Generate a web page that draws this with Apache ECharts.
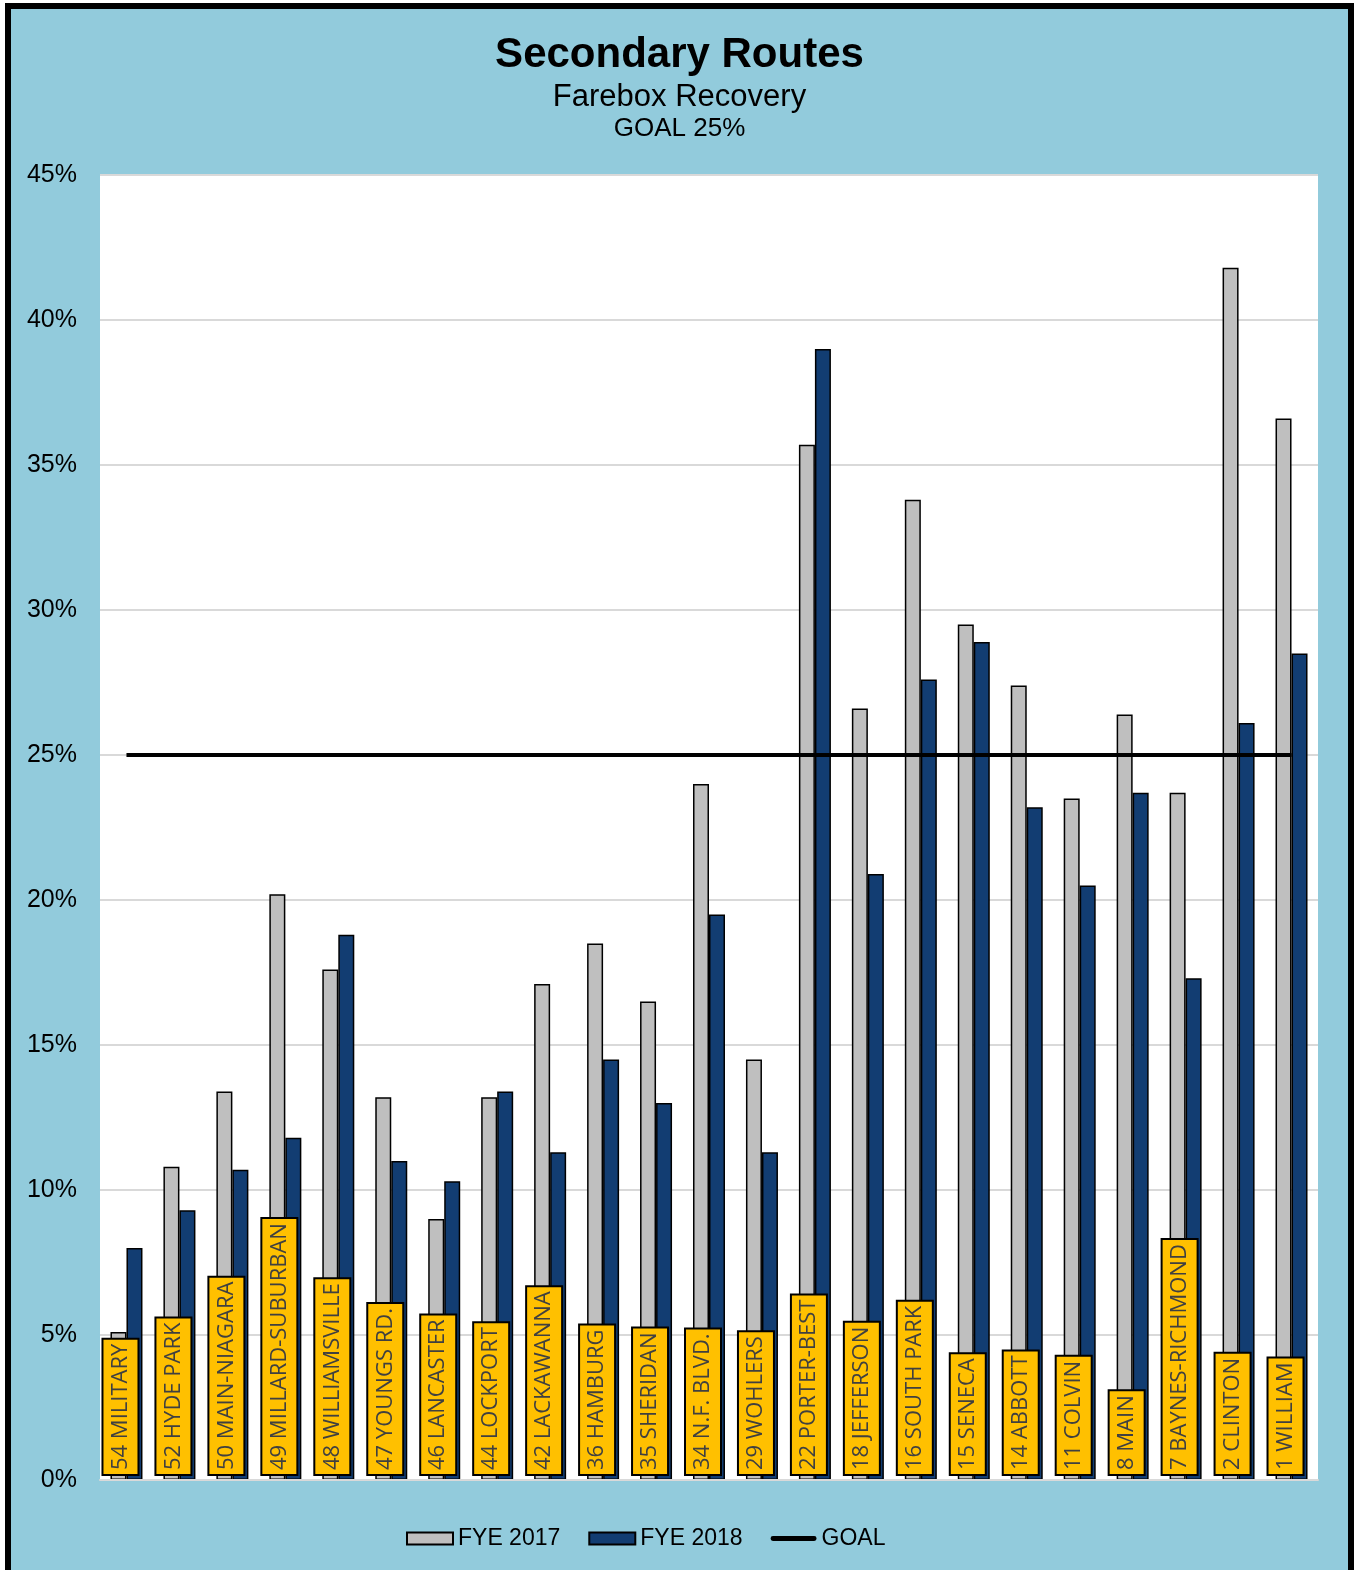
<!DOCTYPE html>
<html>
<head>
<meta charset="utf-8">
<script src="https://cdn.jsdelivr.net/npm/echarts@6/dist/echarts.min.js"></script>
<style>
  html, body { margin: 0; padding: 0; background: #fff; }
  #frame {
    position: absolute; left: 5px; top: 3px;
    width: 1337px; height: 1561px;
    border: 6px solid #000; border-bottom: none;
    background: #92cbdc;
  }
  #chart-container { width: 1337px; height: 1561px; }
</style>
</head>
<body>
<div id="frame"><div id="chart-container"></div></div>
<script>
const routes = [
  "54 MILITARY", "52 HYDE PARK", "50 MAIN-NIAGARA", "49 MILLARD-SUBURBAN",
  "48 WILLIAMSVILLE", "47 YOUNGS RD.", "46 LANCASTER", "44 LOCKPORT",
  "42 LACKAWANNA", "36 HAMBURG", "35 SHERIDAN", "34 N.F. BLVD.",
  "29 WOHLERS", "22 PORTER-BEST", "18 JEFFERSON", "16 SOUTH PARK",
  "15 SENECA", "14 ABBOTT", "11 COLVIN", "8 MAIN",
  "7 BAYNES-RICHMOND", "2 CLINTON", "1 WILLIAM"
];
const fye2017 = [
  5.1, 10.8, 13.4, 20.2, 17.6, 13.2, 9.0, 13.2, 17.1, 18.5, 16.5, 24.0,
  14.5, 35.7, 26.6, 33.8, 29.5, 27.4, 23.5, 26.4, 23.7, 41.8, 36.6
];
const fye2018 = [
  8.0, 9.3, 10.7, 11.8, 18.8, 11.0, 10.3, 13.4, 11.3, 14.5, 13.0, 19.5,
  11.3, 39.0, 20.9, 27.6, 28.9, 23.2, 20.5, 23.7, 17.3, 26.1, 28.5
];
const goal = [
  25, 25, 25, 25, 25, 25, 25, 25, 25, 25, 25, 25,
  25, 25, 25, 25, 25, 25, 25, 25, 25, 25, 25
];
const yTicks = [0, 5, 10, 15, 20, 25, 30, 35, 40, 45];

(() => {
  var dom = document.getElementById("chart-container");
  var chart = echarts.init(dom, null, { renderer: "canvas" });
  const arial = "'Liberation Sans', Arial, sans-serif";
  const option = {
    animation: false,
    backgroundColor: "#92cbdc",
    title: [
      {
        text: "Secondary Routes",
        left: "center",
        top: 20,
        textStyle: { fontFamily: arial, fontSize: 42, fontWeight: "bold", color: "#000", lineHeight: 42 },
      },
      {
        text: "Farebox Recovery",
        left: "center",
        top: 68,
        textStyle: { fontFamily: arial, fontSize: 31, fontWeight: "normal", color: "#000", lineHeight: 31 },
      },
      {
        text: "GOAL 25%",
        left: "center",
        top: 102,
        textStyle: { fontFamily: arial, fontSize: 26, fontWeight: "normal", color: "#000", lineHeight: 26 },
      },
    ],
    legend: {
      bottom: 15,
      left: 390,
      itemWidth: 46,
      itemHeight: 12,
      itemGap: 28,
      textStyle: { fontFamily: arial, fontSize: 23, color: "#000" },
      data: [
        { name: "FYE 2017", icon: "rect" },
        { name: "FYE 2018", icon: "rect" },
        {
          name: "GOAL",
          icon: "path://M2.5,0 L45.5,0 A2.5,2.5 0 0 1 45.5,5 L2.5,5 A2.5,2.5 0 0 1 2.5,0 Z",
          itemStyle: { color: "#000", borderWidth: 0 },
        },
      ],
    },
    grid: { left: 89, top: 166, width: 1218, height: 1305, backgroundColor: "#fff", show: true, borderWidth: 0 },
    xAxis: {
      type: "category",
      data: routes,
      z: 10,
      axisLine: { lineStyle: { color: "#d9d9d9", width: 2 } },
      axisTick: { show: false },
      axisLabel: {
        inside: true,
        rotate: 90,
        interval: 0,
        margin: 6,
        padding: [0, 0, 12, 0],
        formatter: "{a|{value}}",
        rich: {
          a: {
            fontFamily: "'Open Sans', sans-serif",
            fontSize: 22,
            lineHeight: 27,
            color: "#404040",
            backgroundColor: "#ffc000",
            borderColor: "#000",
            borderWidth: 2,
            padding: [6, 4, 6, 4],
          },
        },
      },
    },
    yAxis: {
      type: "value",
      min: yTicks[0],
      max: yTicks[yTicks.length - 1],
      interval: 5,
      axisLine: { show: false },
      axisTick: { show: false },
      axisLabel: { formatter: "{value}%", fontFamily: arial, fontSize: 25, color: "#000", margin: 23 },
      splitLine: { lineStyle: { color: "#d9d9d9", width: 2 } },
    },
    series: [
      {
        name: "FYE 2017",
        type: "bar",
        barWidth: 16,
        barGap: "0%",
        data: fye2017,
        itemStyle: { color: "#bfbfbf", borderColor: "#000", borderWidth: 1.5 },
      },
      {
        name: "FYE 2018",
        type: "bar",
        barWidth: 16,
        data: fye2018,
        itemStyle: { color: "#123d72", borderColor: "#000", borderWidth: 1.5 },
      },
      {
        name: "GOAL",
        type: "line",
        data: goal,
        symbol: "none",
        z: 5,
        color: "#000",
        lineStyle: { color: "#000", width: 4 },
      },
    ],
  };

  if (option && typeof option === "object") {
    chart.setOption(option);
  }

  window.addEventListener("resize", chart.resize);
})();
</script>
</body>
</html>
